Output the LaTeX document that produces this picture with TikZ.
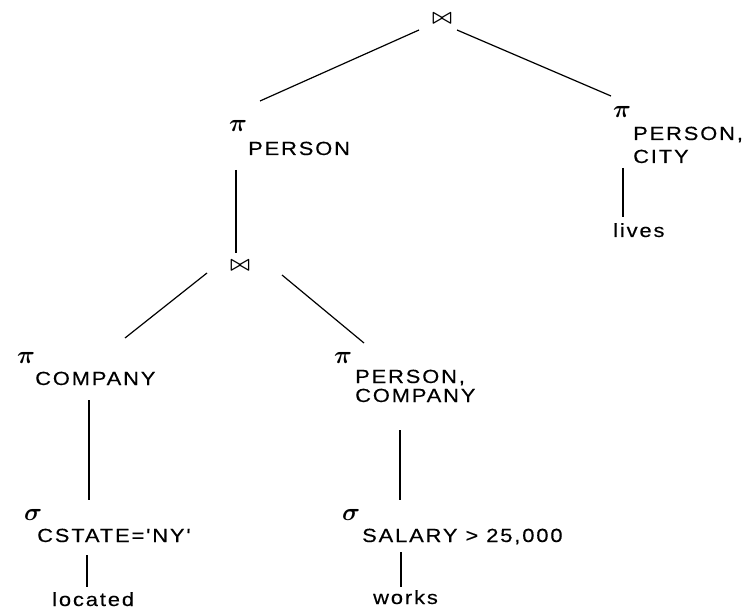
\documentclass[tikz,border=0pt]{standalone}
\usepackage{fontspec}
\newfontfamily\lblfont[FakeStretch=1.15,LetterSpace=10,FakeBold=0.4]{Liberation Sans}
\begin{document}
\begin{tikzpicture}[x=1pt,y=-1pt,
  lbl/.style={anchor=base west,inner sep=0pt,font=\lblfont\fontsize{19}{19}\selectfont},
  opsym/.style={anchor=base west,inner sep=0pt,font=\fontsize{24}{24}\selectfont\boldmath},
  joinop/.style={inner sep=0pt,font=\fontsize{22}{22}\selectfont\boldmath},
  edge/.style={line width=1.2pt}]
\useasboundingbox (0,0) rectangle (752,609);

% join operators
\node[joinop] (j1) at (442,19) {$\bowtie$};
\node[joinop] (j2) at (240,266) {$\bowtie$};

% projection on PERSON (left)
\node[opsym] (piA) at (229,132) {$\pi$};
\node[lbl] (tA) at (248,155) {PERSON};

% projection on PERSON, CITY (right)
\node[opsym] (piB) at (613,118) {$\pi$};
\node[lbl] (tB1) at (633,140) {PERSON,};
\node[lbl] (tB2) at (633,163) {CITY};
\node[lbl] (lives) at (613,237) {lives};

% projection on COMPANY
\node[opsym] (piC) at (17,363) {$\pi$};
\node[lbl] (tC) at (35,385) {COMPANY};

% projection on PERSON, COMPANY
\node[opsym] (piD) at (334,363) {$\pi$};
\node[lbl] (tD1) at (355,383) {PERSON,};
\node[lbl] (tD2) at (355,402) {COMPANY};

% selections
\node[opsym] (sgE) at (24,520) {$\sigma$};
\node[lbl] (tE) at (37,542) {CSTATE='NY'};
\node[lbl] (located) at (52,606) {located};

\node[opsym] (sgF) at (342,520) {$\sigma$};
\node[lbl] (tF) at (362,542) {SALARY > 25,000};
\node[lbl] (works) at (373,604) {works};

% tree edges
\draw[edge] ([shift={(-23,11)}]j1.center) -- ([shift={(12,-54)}]tA.base west);
\draw[edge] ([shift={(15,11)}]j1.center) -- ([shift={(-2,-22)}]piB.base west);
\draw[edge] ([shift={(-12,15)}]tA.base west) -- ([shift={(-4,-13)}]j2.center);
\draw[edge] ([shift={(-33,7)}]j2.center) -- ([shift={(108,-25)}]piC.base west);
\draw[edge] ([shift={(42,9)}]j2.center) -- ([shift={(30,-20)}]piD.base west);
\draw[edge] ([shift={(54,15)}]tC.base west) -- ([shift={(65,-20)}]sgE.base west);
\draw[edge] ([shift={(50,13)}]tE.base west) -- ([shift={(35,-19)}]located.base west);
\draw[edge] ([shift={(45,28)}]tD2.base west) -- ([shift={(58,-20)}]sgF.base west);
\draw[edge] ([shift={(39,10)}]tF.base west) -- ([shift={(28,-17)}]works.base west);
\draw[edge] ([shift={(-10,5)}]tB2.base west) -- ([shift={(10,-20)}]lives.base west);
\end{tikzpicture}
\end{document}
